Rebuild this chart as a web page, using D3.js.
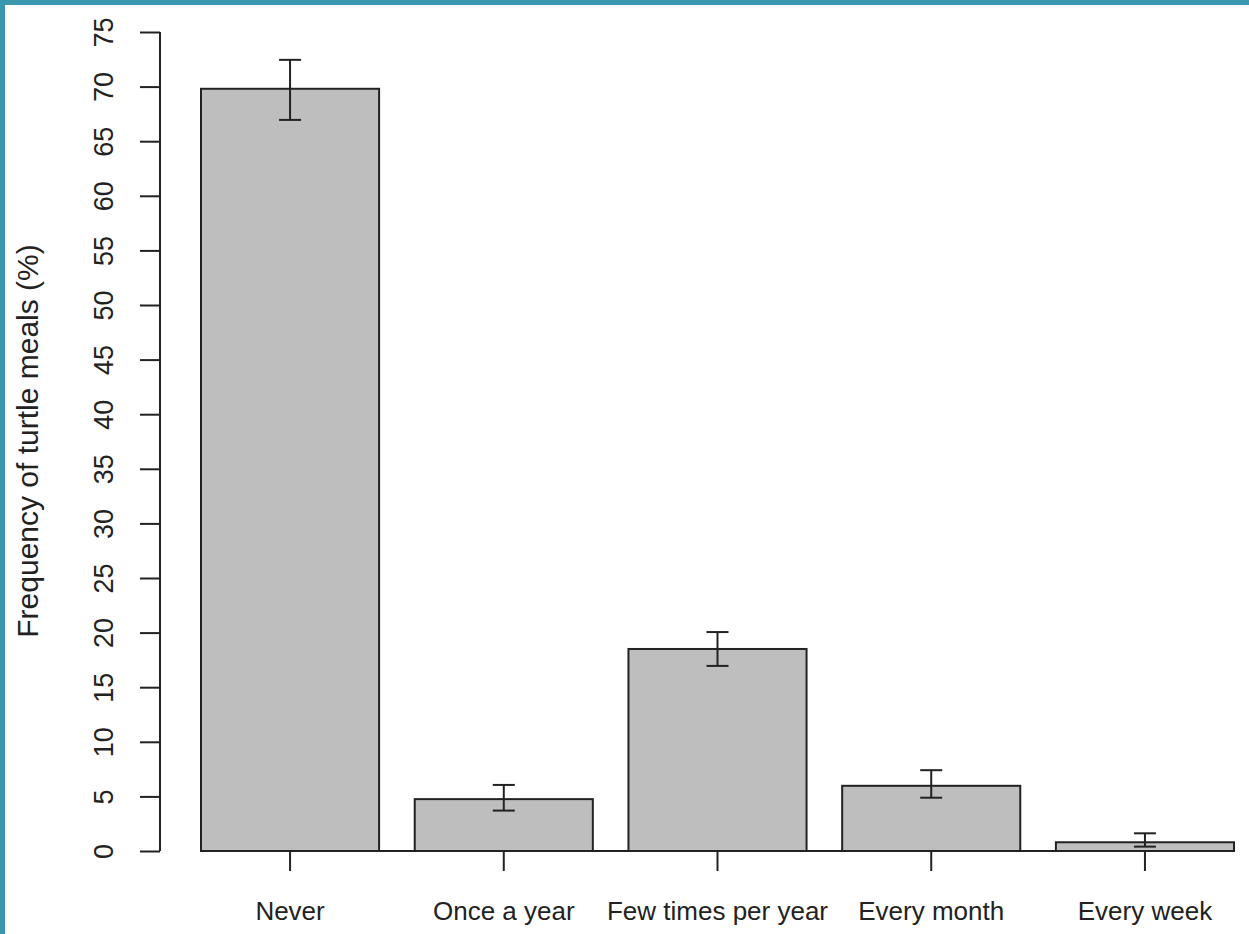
<!DOCTYPE html>
<html>
<head>
<meta charset="utf-8">
<script src="https://cdn.jsdelivr.net/npm/d3@7"></script>
<style>
  body { margin: 0; background: #fff; }
  text { font-family: "Liberation Sans", Arial, sans-serif; fill: #222; }
</style>
</head>
<body>
<script>
// data
var categories = ["Never", "Once a year", "Few times per year", "Every month", "Every week"];
var means = [69.8, 4.75, 18.5, 5.97, 0.8];
var errLow = [66.95, 3.7, 16.95, 4.88, 0.4];
var errHigh = [72.45, 6.05, 20.05, 7.4, 1.62];
var yTicks = [0, 5, 10, 15, 20, 25, 30, 35, 40, 45, 50, 55, 60, 65, 70, 75];

var svgWidth = 1249;
var svgHeight = 934;

var svg = d3.select("body")
  .append("svg")
  .attr("width", svgWidth)
  .attr("height", svgHeight);

// teal frame (top and left edges)
svg.append("rect")
  .attr("x", 0).attr("y", 0)
  .attr("width", svgWidth).attr("height", 5)
  .attr("fill", "#3a97ae");
svg.append("rect")
  .attr("x", 0).attr("y", 0)
  .attr("width", 5).attr("height", svgHeight)
  .attr("fill", "#3a97ae");

var xScale = d3.scaleBand()
  .domain(categories)
  .range([201, 1234])
  .paddingInner(1 / 6)
  .paddingOuter(0);

var yScale = d3.scaleLinear()
  .domain([0, 75])
  .range([851, 32]);

var ink = "#222";

// y axis, R style: ticks outside, labels rotated
var yAxis = d3.axisLeft(yScale)
  .tickValues(yTicks)
  .tickSize(20)
  .tickPadding(0)
  .tickFormat(d3.format("d"));

var yg = svg.append("g")
  .attr("transform", "translate(160,0)")
  .call(yAxis);
yg.select(".domain")
  .attr("d", "M0," + yScale(0) + "V" + yScale(75))
  .attr("stroke", ink).attr("stroke-width", 2);
yg.selectAll(".tick line").attr("stroke", ink).attr("stroke-width", 2);
yg.selectAll(".tick text")
  .attr("x", null).attr("dy", null)
  .attr("transform", "translate(-47,0) rotate(-90)")
  .attr("text-anchor", "middle")
  .style("font-size", "27px")
  .style("fill", ink);

// bars
svg.selectAll("rect.bar")
  .data(categories)
  .enter()
  .append("rect")
  .attr("class", "bar")
  .attr("x", function(d) { return xScale(d); })
  .attr("y", function(d, i) { return yScale(means[i]); })
  .attr("width", xScale.bandwidth())
  .attr("height", function(d, i) { return yScale(0) - yScale(means[i]); })
  .attr("fill", "#bebebe")
  .attr("stroke", ink)
  .attr("stroke-width", 2);

// baseline across the bars
svg.append("line")
  .attr("x1", xScale(categories[0]))
  .attr("x2", xScale(categories[categories.length - 1]) + xScale.bandwidth())
  .attr("y1", yScale(0)).attr("y2", yScale(0))
  .attr("stroke", ink).attr("stroke-width", 2);

// x axis ticks and labels
var xAxis = d3.axisBottom(xScale)
  .tickSize(20)
  .tickPadding(31);
var xg = svg.append("g")
  .attr("transform", "translate(0," + yScale(0) + ")")
  .call(xAxis);
xg.select(".domain").remove();
xg.selectAll(".tick line").attr("stroke", ink).attr("stroke-width", 2);
xg.selectAll(".tick text")
  .style("font-size", "26px")
  .style("fill", ink);

// error bars
var capHalf = 11;
var errs = svg.append("g").attr("stroke", ink).attr("stroke-width", 2);
categories.forEach(function(c, i) {
  var cx = xScale(c) + xScale.bandwidth() / 2;
  errs.append("line")
    .attr("x1", cx).attr("x2", cx)
    .attr("y1", yScale(errLow[i])).attr("y2", yScale(errHigh[i]));
  errs.append("line")
    .attr("x1", cx - capHalf).attr("x2", cx + capHalf)
    .attr("y1", yScale(errHigh[i])).attr("y2", yScale(errHigh[i]));
  errs.append("line")
    .attr("x1", cx - capHalf).attr("x2", cx + capHalf)
    .attr("y1", yScale(errLow[i])).attr("y2", yScale(errLow[i]));
});

// y axis title
svg.append("text")
  .attr("transform", "translate(38,441) rotate(-90)")
  .attr("text-anchor", "middle")
  .style("font-size", "30px")
  .style("fill", ink)
  .text("Frequency of turtle meals (%)");
</script>
</body>
</html>
